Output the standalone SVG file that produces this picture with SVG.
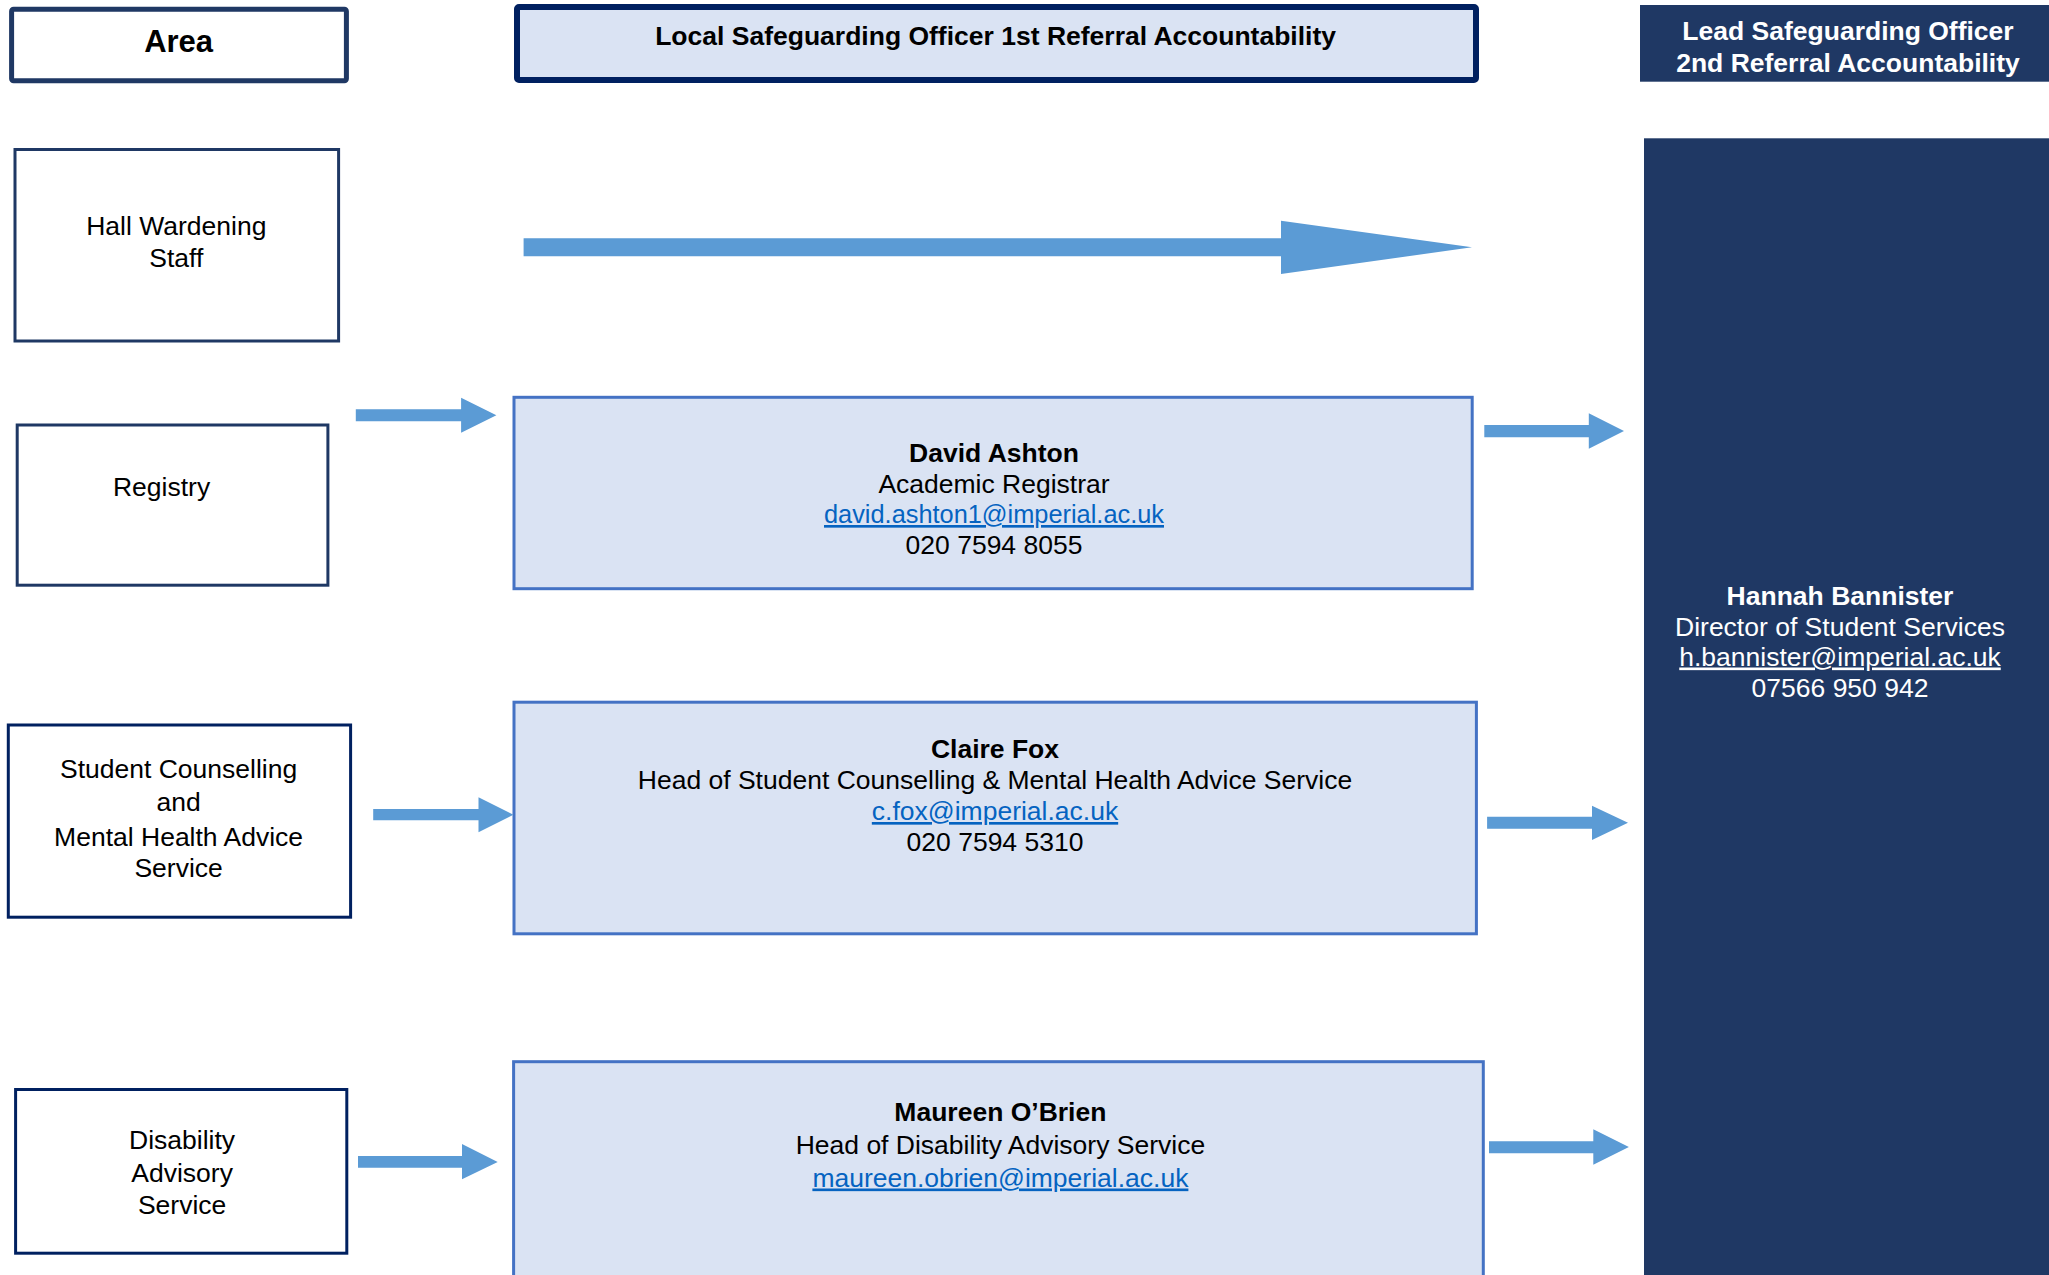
<svg xmlns="http://www.w3.org/2000/svg" width="2049" height="1275" viewBox="0 0 2049 1275">
<style>
text{font-family:"Liberation Sans",Arial,sans-serif;font-size:26.5px;text-anchor:middle;fill:#000}
.b{font-weight:bold}
.w{fill:#fff}
.lnk{fill:#0563c1;text-decoration:underline}
.lnkw{fill:#fff;text-decoration:underline}
.area{fill:#fff;stroke:#1f3864;stroke-width:3}
.area2{fill:#fff;stroke:#002060;stroke-width:3}
.lso{fill:#dae3f3;stroke:#4472c4;stroke-width:3}
.arrow{fill:#5b9bd5}
</style>
<rect width="2049" height="1275" fill="#fff"/>

<g id="hdr-area">
<rect x="11.6" y="9.2" width="334.8" height="71.5" rx="2" fill="#fff" stroke="#1f3864" stroke-width="5"/>
<text x="178.6" y="51.5" class="b" style="font-size:31px">Area</text>
</g>

<g id="hdr-local">
<rect x="517" y="7" width="959" height="73" rx="2" fill="#dae3f3" stroke="#002060" stroke-width="6"/>
<text x="995.6" y="45" class="b">Local Safeguarding Officer 1st Referral Accountability</text>
</g>

<g id="hdr-lead">
<rect x="1640" y="5" width="409" height="76.7" fill="#1f3864"/>
<text x="1848" y="40" class="b w">Lead Safeguarding Officer</text>
<text x="1848" y="72" class="b w">2nd Referral Accountability</text>
</g>

<g id="lead">
<rect x="1644" y="138.3" width="405" height="1137" fill="#1f3864"/>
<text x="1840" y="605" class="b w">Hannah Bannister</text>
<text x="1840" y="636" class="w">Director of Student Services</text>
<text x="1840" y="665.5" class="lnkw">h.bannister@imperial.ac.uk</text>
<text x="1840" y="696.5" class="w">07566 950 942</text>
</g>

<g id="hall">
<rect x="15" y="149.5" width="323.6" height="191.5" class="area"/>
<text x="176.3" y="234.5">Hall Wardening</text>
<text x="176.3" y="266.5">Staff</text>
</g>

<g id="registry">
<rect x="17.2" y="425" width="310.7" height="160.2" class="area"/>
<text x="161.6" y="496">Registry</text>
</g>

<g id="counselling">
<rect x="8.3" y="725" width="342.3" height="192.2" class="area2"/>
<text x="178.6" y="778">Student Counselling</text>
<text x="178.6" y="811">and</text>
<text x="178.6" y="845.5">Mental Health Advice</text>
<text x="178.6" y="877">Service</text>
</g>

<g id="disability">
<rect x="15.6" y="1089.5" width="331.2" height="163.7" class="area2"/>
<text x="182.1" y="1148.5">Disability</text>
<text x="182.1" y="1182">Advisory</text>
<text x="182.1" y="1214.3">Service</text>
</g>

<g id="ashton">
<rect x="514" y="397.3" width="958.2" height="191.4" class="lso"/>
<text x="994" y="461.5" class="b">David Ashton</text>
<text x="994" y="493">Academic Registrar</text>
<text x="994" y="523" class="lnk" textLength="340" lengthAdjust="spacingAndGlyphs">david.ashton1@imperial.ac.uk</text>
<text x="994" y="554">020 7594 8055</text>
</g>

<g id="fox">
<rect x="514" y="702.2" width="962.4" height="231.6" class="lso"/>
<text x="995" y="758" class="b">Claire Fox</text>
<text x="995" y="789">Head of Student Counselling &amp; Mental Health Advice Service</text>
<text x="995" y="820" class="lnk">c.fox@imperial.ac.uk</text>
<text x="995" y="850.5">020 7594 5310</text>
</g>

<g id="obrien">
<rect x="513.6" y="1061.7" width="969.7" height="240" class="lso"/>
<text x="1000.4" y="1121" class="b">Maureen O’Brien</text>
<text x="1000.4" y="1154">Head of Disability Advisory Service</text>
<text x="1000.4" y="1186.5" class="lnk">maureen.obrien@imperial.ac.uk</text>
</g>

<g id="connectors">
<polygon class="arrow" points="523.6,238.3 1281,238.3 1281,220.7 1472,247.3 1281,274 1281,256.3 523.6,256.3"/>
<polygon class="arrow" points="355.8,409.3 461.1,409.3 461.1,397.7 496.4,415.3 461.1,432.7 461.1,421.3 355.8,421.3"/>
<polygon class="arrow" points="373.2,809 478.5,809 478.5,797.3 513.4,814.7 478.5,832.3 478.5,820.3 373.2,820.3"/>
<polygon class="arrow" points="358,1156 462,1156 462,1144 497.7,1162 462,1179.3 462,1167.7 358,1167.7"/>
<polygon class="arrow" points="1484.3,425 1588.8,425 1588.8,413.3 1624,431 1588.8,448.7 1588.8,437.3 1484.3,437.3"/>
<polygon class="arrow" points="1487.1,816.7 1592,816.7 1592,805.7 1628,822.7 1592,840 1592,828.7 1487.1,828.7"/>
<polygon class="arrow" points="1489,1141.3 1593.3,1141.3 1593.3,1129.3 1628.9,1147 1593.3,1164.7 1593.3,1153.3 1489,1153.3"/>
</g>
</svg>
